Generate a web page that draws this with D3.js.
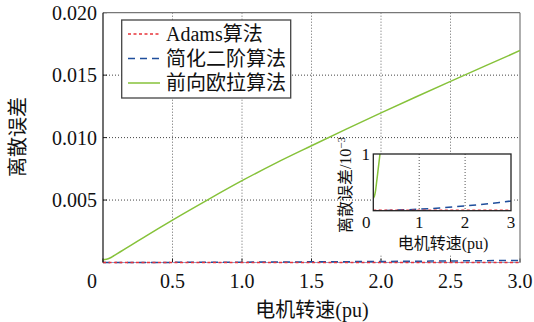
<!DOCTYPE html>
<html>
<head>
<meta charset="utf-8">
<script src="https://cdn.jsdelivr.net/npm/d3@7"></script>
<style>
  html, body { margin: 0; padding: 0; background: #fff; }
  svg { display: block; }
  text { font-family: "Liberation Serif", "Noto Sans CJK SC", serif; fill: #111; }
</style>
</head>
<body>
<svg id="chart" width="534" height="322"></svg>
<script>
// Motor speed (pu) sample points
const speed = [0, 0.025, 0.05, 0.075, 0.1, 0.15, 0.2, 0.3, 0.4, 0.5, 0.75, 1.0, 1.25, 1.5, 1.75, 2.0, 2.25, 2.5, 2.75, 3.0];
// Discretisation error of each algorithm
const adamsErr = [0, 0.00000005, 0.0000001, 0.00000015, 0.0000002, 0.0000003, 0.0000004, 0.0000005, 0.0000006, 0.0000007, 0.0000009, 0.0000011, 0.0000013, 0.0000015, 0.0000017, 0.0000019, 0.0000021, 0.0000023, 0.0000025, 0.0000027];
const secondOrderErr = [0, 0.0000003, 0.0000006, 0.00000095, 0.0000013, 0.0000021, 0.000003, 0.000005, 0.0000072, 0.0000098, 0.0000175, 0.000027, 0.000038, 0.000052, 0.000067, 0.000084, 0.000103, 0.000124, 0.000146, 0.000171];
const eulerErr = [0.00022, 0.00026, 0.00036, 0.00052, 0.00069, 0.00103, 0.00137, 0.00206, 0.00274, 0.0034, 0.005, 0.00655, 0.008, 0.00935, 0.01068, 0.01198, 0.01325, 0.0145, 0.01574, 0.01697];

const seriesNames = ["Adams算法", "简化二阶算法", "前向欧拉算法"];
const seriesColors = ["#e8333a", "#1f4e9c", "#86c23a"];
const seriesDash = ["3,2.5", "7,5", null];

// Tick values
const xTicks = [0, 0.5, 1.0, 1.5, 2.0, 2.5, 3.0];
const xTickLabels = ["0", "0.5", "1.0", "1.5", "2.0", "2.5", "3.0"];
const yTicks = [0.005, 0.010, 0.015, 0.020];
const yTickLabels = ["0.005", "0.010", "0.015", "0.020"];
const insetXTicks = [0, 1, 2, 3];
const insetXTickLabels = ["0", "1", "2", "3"];

const svg = d3.select("#chart");
const seriesData = [adamsErr, secondOrderErr, eulerErr];

// ---------- main axes ----------
const M = { left: 103, right: 520, top: 12.7, bottom: 262.5 };
const x = d3.scaleLinear().domain([0, 3]).range([M.left, M.right]);
const y = d3.scaleLinear().domain([0, 0.02]).range([M.bottom, M.top]);

svg.append("defs").append("clipPath").attr("id", "mainClip")
  .append("rect").attr("x", M.left).attr("y", M.top - 2)
  .attr("width", M.right - M.left).attr("height", M.bottom - M.top + 4);

// grid
const grid = svg.append("g");
grid.selectAll(".vg").data(xTicks.filter(d => d > 0 && d < 3)).join("line")
  .attr("x1", d => x(d)).attr("x2", d => x(d))
  .attr("y1", M.top).attr("y2", M.bottom)
  .attr("stroke", "#666").attr("stroke-width", 1).attr("stroke-dasharray", "1,2");
grid.selectAll(".hg").data(yTicks.filter(d => d < 0.02)).join("line")
  .attr("x1", M.left).attr("x2", M.right)
  .attr("y1", d => y(d)).attr("y2", d => y(d))
  .attr("stroke", "#444").attr("stroke-width", 1).attr("stroke-dasharray", "1,2");

// inward tick marks
grid.selectAll(".yt").data(yTicks).join("line")
  .attr("x1", M.left).attr("x2", M.left + 4)
  .attr("y1", d => y(d)).attr("y2", d => y(d))
  .attr("stroke", "#222").attr("stroke-width", 1);
grid.selectAll(".xt").data(xTicks).join("line")
  .attr("x1", d => x(d)).attr("x2", d => x(d))
  .attr("y1", M.bottom).attr("y2", M.bottom - 4)
  .attr("stroke", "#222").attr("stroke-width", 1);

// box
svg.append("line").attr("x1", M.left).attr("x2", M.right).attr("y1", M.top).attr("y2", M.top)
  .attr("stroke", "#777").attr("stroke-width", 1.2);
svg.append("line").attr("x1", M.right).attr("x2", M.right).attr("y1", M.top).attr("y2", M.bottom)
  .attr("stroke", "#777").attr("stroke-width", 1.2);
svg.append("line").attr("x1", M.left).attr("x2", M.right).attr("y1", M.bottom).attr("y2", M.bottom)
  .attr("stroke", "#8a9fc8").attr("stroke-width", 1.2);

// series
const line = (ys, xs) => d3.line().curve(d3.curveMonotoneX)
  .x((d, i) => xs(speed[i])).y(d => ys(d));

const plot = svg.append("g").attr("clip-path", "url(#mainClip)");
[2, 1, 0].forEach(k => {
  plot.append("path").datum(seriesData[k])
    .attr("d", line(y, x))
    .attr("fill", "none")
    .attr("stroke", seriesColors[k])
    .attr("stroke-width", 1.5)
    .attr("stroke-dasharray", seriesDash[k]);
});

svg.append("line").attr("x1", M.left).attr("x2", M.left).attr("y1", M.top).attr("y2", M.bottom)
  .attr("stroke", "#111").attr("stroke-width", 1.2);

// tick labels
svg.selectAll(".xl").data(xTicks).join("text")
  .attr("x", (d, i) => x(d) + (d === 0 ? -11 : 0))
  .attr("y", 288)
  .attr("text-anchor", "middle")
  .attr("font-size", 20)
  .text((d, i) => xTickLabels[i]);
svg.selectAll(".yl").data(yTicks).join("text")
  .attr("x", 97)
  .attr("y", d => y(d) + 7)
  .attr("text-anchor", "end")
  .attr("font-size", 20)
  .text((d, i) => yTickLabels[i]);

// axis titles
svg.append("text").attr("x", 312).attr("y", 317).attr("text-anchor", "middle")
  .attr("font-size", 20).text("电机转速(pu)");
svg.append("text").attr("transform", "translate(25,137) rotate(-90)")
  .attr("text-anchor", "middle").attr("font-size", 20).text("离散误差");

// ---------- legend ----------
const lg = svg.append("g");
lg.append("rect").attr("x", 121.7).attr("y", 20).attr("width", 169).attr("height", 78)
  .attr("fill", "#fff").attr("stroke", "#444").attr("stroke-width", 1.3);
const rowY = [34, 58.5, 83];
seriesNames.forEach((name, k) => {
  lg.append("line").attr("x1", 128).attr("x2", 160).attr("y1", rowY[k]).attr("y2", rowY[k])
    .attr("stroke", seriesColors[k]).attr("stroke-width", 1.5)
    .attr("stroke-dasharray", seriesDash[k]);
  lg.append("text").attr("x", 166).attr("y", rowY[k] + 7).attr("font-size", 20).text(name);
});

// ---------- inset ----------
const I = { left: 373.3, right: 511, top: 154, bottom: 210.7 };
const xi = d3.scaleLinear().domain([0, 3]).range([I.left, I.right]);
const yi = d3.scaleLinear().domain([0, 0.001]).range([I.bottom, I.top]);

svg.append("rect").attr("x", I.left).attr("y", I.top)
  .attr("width", 141).attr("height", 101).attr("fill", "#fff");

svg.select("defs").append("clipPath").attr("id", "insetClip")
  .append("rect").attr("x", I.left).attr("y", I.top)
  .attr("width", I.right - I.left).attr("height", I.bottom - I.top);

const ig = svg.append("g");
ig.selectAll(".ivg").data(insetXTicks.filter(d => d > 0 && d < 3)).join("line")
  .attr("x1", d => xi(d)).attr("x2", d => xi(d))
  .attr("y1", I.top).attr("y2", I.bottom)
  .attr("stroke", "#555").attr("stroke-width", 1).attr("stroke-dasharray", "1,2");

const iplot = ig.append("g").attr("clip-path", "url(#insetClip)");
[2, 1, 0].forEach(k => {
  iplot.append("path").datum(seriesData[k])
    .attr("d", line(yi, xi))
    .attr("fill", "none")
    .attr("stroke", seriesColors[k])
    .attr("stroke-width", k === 0 ? 2.2 : 1.5)
    .attr("stroke-dasharray", seriesDash[k]);
});

ig.append("rect").attr("x", I.left).attr("y", I.top)
  .attr("width", I.right - I.left).attr("height", I.bottom - I.top)
  .attr("fill", "none").attr("stroke", "#222").attr("stroke-width", 1.3);

ig.selectAll(".ixl").data(insetXTicks).join("text")
  .attr("x", d => xi(d) + (d === 0 ? -7 : 0))
  .attr("y", 228)
  .attr("text-anchor", "middle")
  .attr("font-size", 17)
  .text((d, i) => insetXTickLabels[i]);
ig.append("text").attr("x", 370).attr("y", yi(0.001) + 6)
  .attr("text-anchor", "end").attr("font-size", 17).text("1");

ig.append("text").attr("x", 443).attr("y", 249).attr("text-anchor", "middle")
  .attr("font-size", 16).text("电机转速(pu)");
const iyl = ig.append("text").attr("transform", "translate(351,185) rotate(-90)")
  .attr("text-anchor", "middle").attr("font-size", 16);
iyl.append("tspan").text("离散误差/10");
iyl.append("tspan").attr("dy", -6).attr("font-size", 11).text("−3");
</script>
</body>
</html>
